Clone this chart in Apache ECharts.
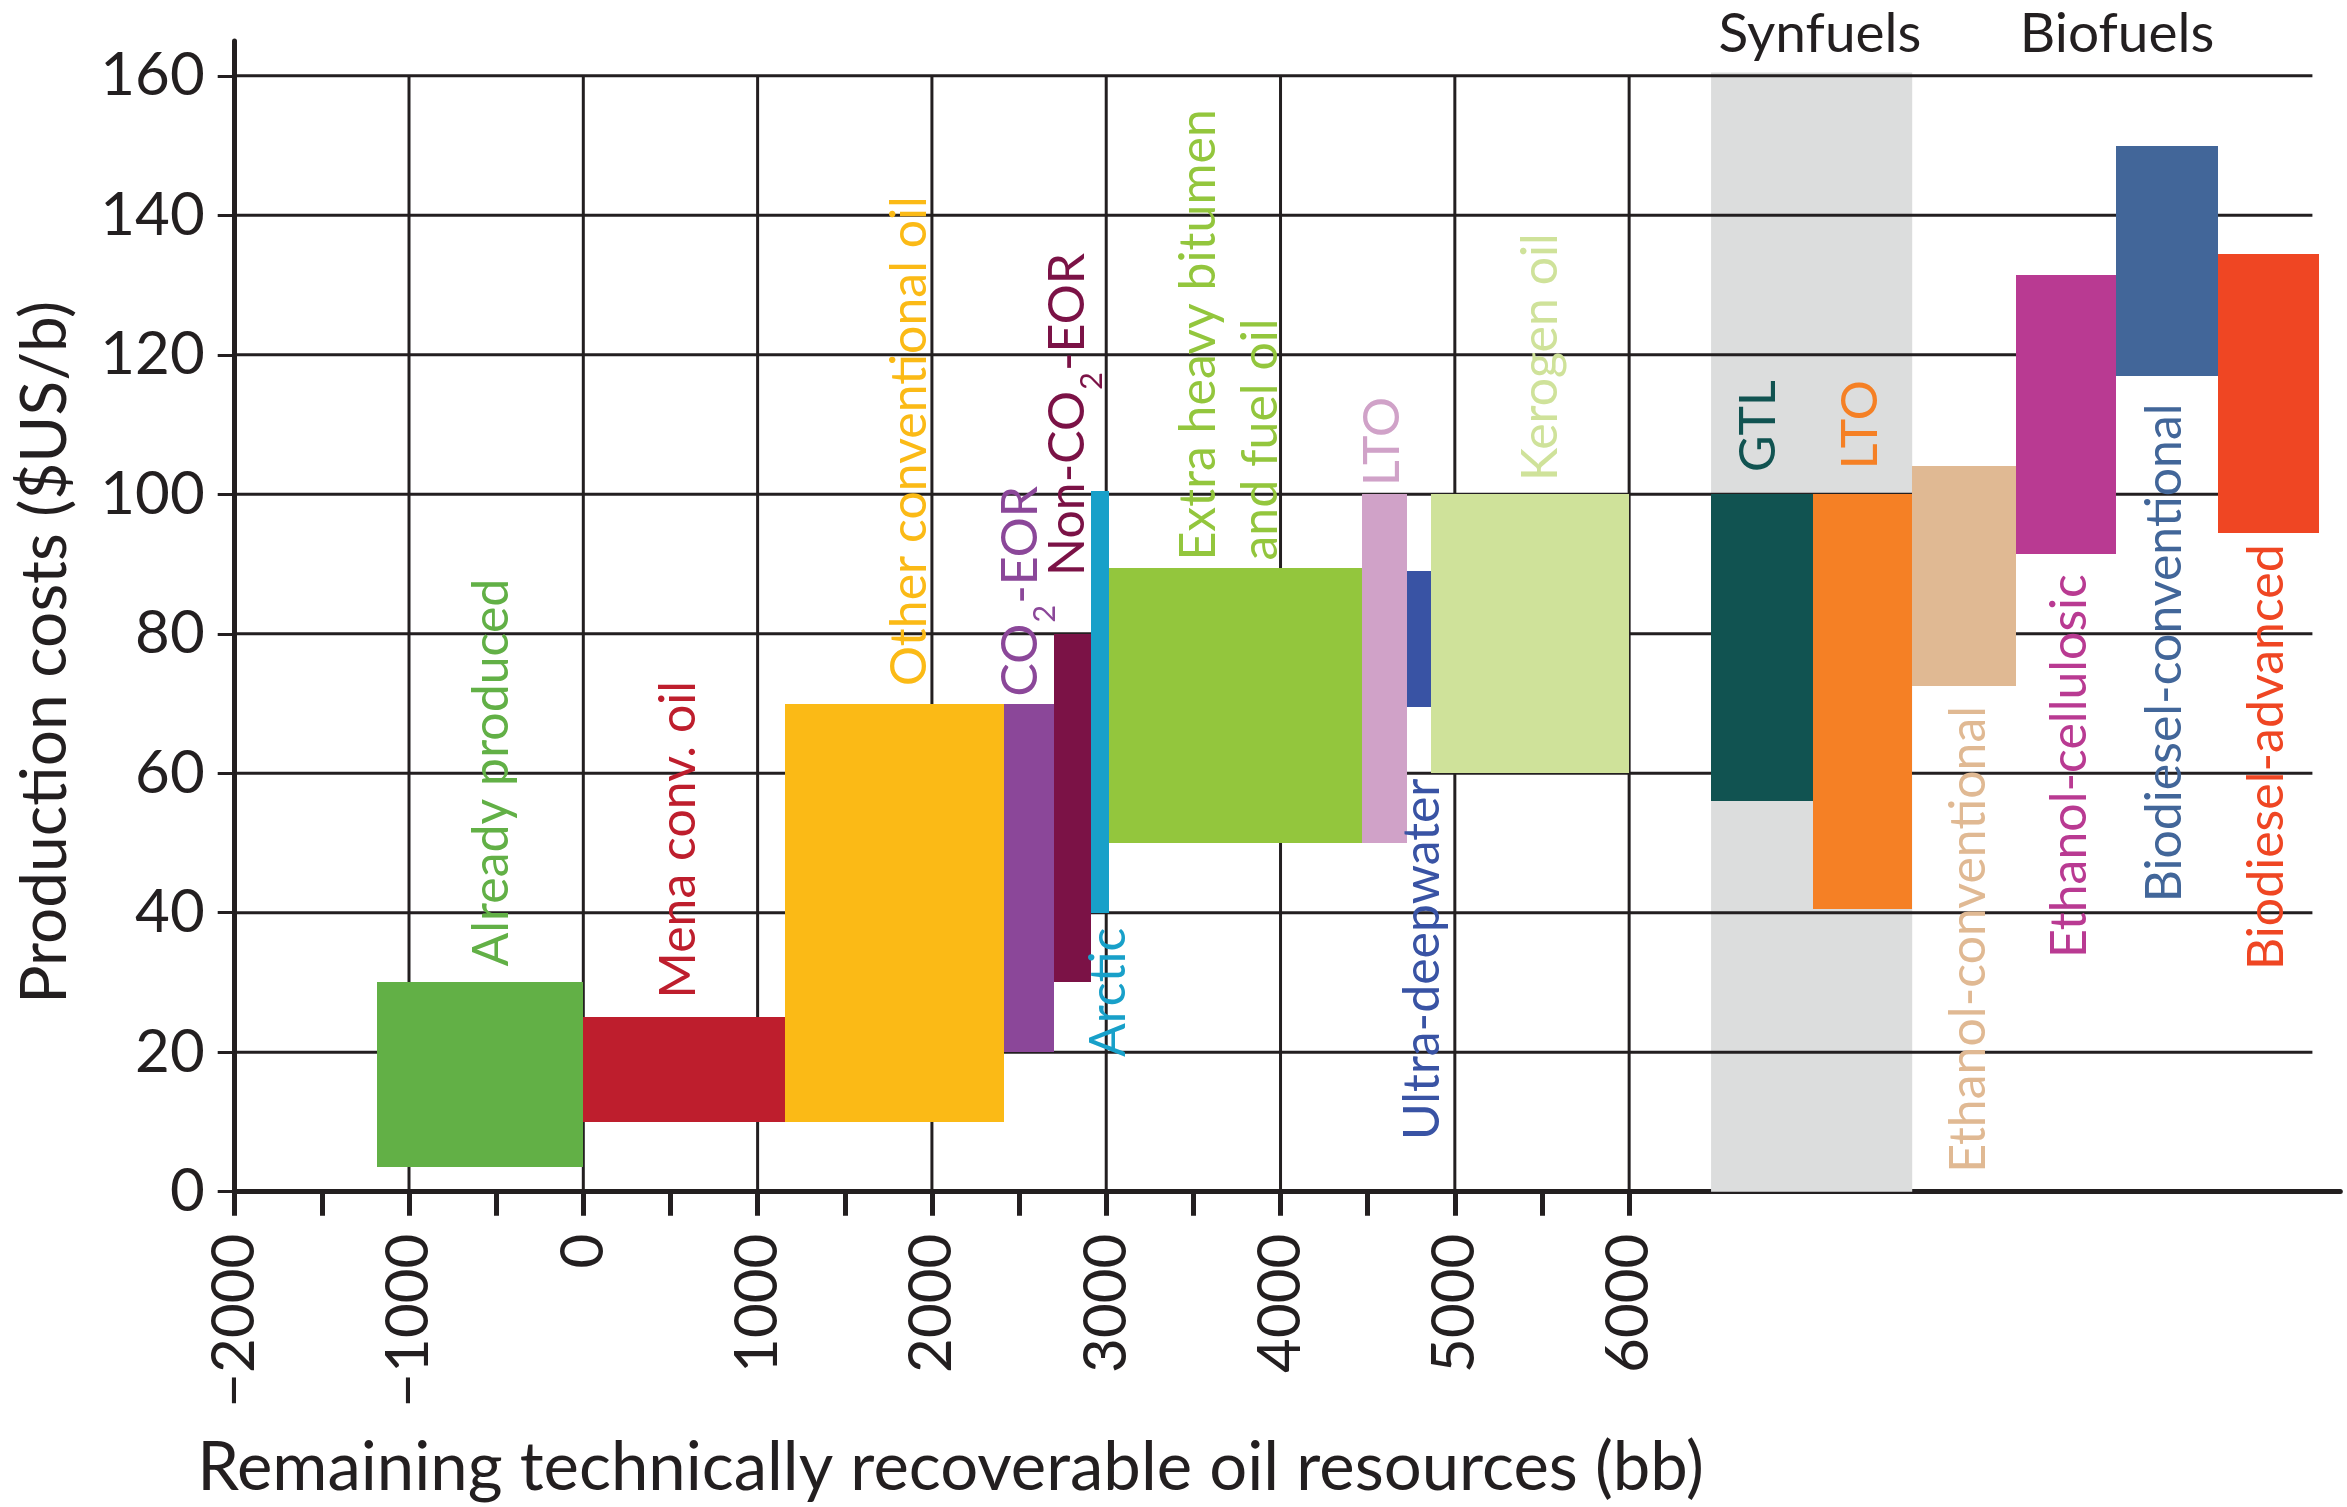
<!DOCTYPE html>
<html>
<head>
<meta charset="utf-8">
<title>Oil production cost curve</title>
<script src="https://cdn.jsdelivr.net/npm/echarts@6/dist/echarts.min.js"></script>
<style>
  html, body { margin: 0; padding: 0; background: #ffffff; }
  #chart { width: 2347px; height: 1507px; }
</style>
</head>
<body>
<div id="chart"></div>
<script>
// Resource blocks of the cost curve, in order along the resource axis
const resources = [
  'Already produced', 'Mena conv. oil', 'Other conventional oil', 'CO2-EOR',
  'Non-CO2-EOR', 'Arctic', 'Extra heavy bitumen and fuel oil', 'LTO',
  'Ultra-deepwater', 'Kerogen oil', 'GTL', 'LTO',
  'Ethanol-conventional', 'Ethanol-cellulosic', 'Biodiesel-conventional', 'Biodiesel-advanced'
];
// Resource span of each block (bb)
const spanStart = [-1186, 0, 1159, 2411, 2698, 2912, 3015, 4470, 4727, 4861, 6470, 7052, 7624, 8220, 8791, 9377];
const spanEnd   = [0, 1159, 2411, 2698, 2912, 3015, 4470, 4727, 4861, 6000, 7052, 7624, 8220, 8791, 9377, 9956];
// Production cost range ($US/b)
const costLow  = [3.5, 10, 10, 20, 30, 40, 50, 50, 69.5, 60, 56, 40.5, 72.5, 91.5, 117, 94.5];
const costHigh = [30, 25, 70, 70, 80, 100.5, 89.5, 100, 89, 100, 100, 100, 104, 131.5, 150, 134.5];
// Axis tick labels
const xTickLabels = [-2000, -1000, 0, 1000, 2000, 3000, 4000, 5000, 6000];
const yTickLabels = [0, 20, 40, 60, 80, 100, 120, 140, 160];
// Alternative-fuel groups; synfuels cover the GTL and synthetic LTO blocks
const fuelGroups = ['Synfuels', 'Biofuels'];
const synfuelBlocks = [10, 11];

// ---- styling and layout ----
const INK = '#231f20';
const FONT = 'Lato';
const palette = [
  '#62b046', '#be1e2d', '#fbba16', '#8b4799', '#7b1246', '#18a0c9', '#93c63d', '#d0a2c8',
  '#3953a4', '#cfe29a', '#115351', '#f58025', '#e0b993', '#b93a92', '#426699', '#ef4623'
];
const bandColor = '#dcdddd';
// where each rotated label starts (x = text centre line, y = start of the text, reading upwards)
const labelAt = [
  [-527, 32.3], [550, 27.7], [1871, 72.5], [2508, 71.0],
  [2780, 88.3], [3013, 19.3], [3710, 90.5], [4587, 101.2],
  [4815, 7.4], [5495, 101.9], [6744, 103.2], [7327, 103.6],
  [7950, 2.7], [8527, 33.5], [9075, 41.5], [9660, 31.8]
];
const groupTitleAt = [[7095, 165.9], [8799, 165.9]];
const gridLineEnd = 9920;

const signed = v => (v < 0 ? '\u2212' + Math.abs(v) : String(v));
const xTickMarks = [];
xTickLabels.forEach((v, i) => {
  xTickMarks.push(v);
  if (i < xTickLabels.length - 1) xTickMarks.push((v + xTickLabels[i + 1]) / 2);
});
const labelText = resources.map(n =>
  n.replace('CO2', 'CO{sub|2}').replace(' bitumen and ', ' bitumen\nand '));
const yTop = yTickLabels[yTickLabels.length - 1];

const chart = echarts.init(document.getElementById('chart'), null, { renderer: 'canvas' });

const option = {
  animation: false,
  backgroundColor: '#ffffff',
  textStyle: { fontFamily: FONT },
  grid: { left: 234.7, right: 6.7, top: 41, bottom: 315.3, containLabel: false, outerBoundsMode: 'none' },
  xAxis: {
    type: 'value', min: -2000, max: 10080,
    name: 'Remaining technically recoverable oil resources (bb)',
    nameLocation: 'middle', nameGap: 243, nameMoveOverlap: false,
    nameTextStyle: { fontFamily: FONT, fontSize: 67, color: INK, padding: [0, 674, 0, 0] },
    axisLine: { show: true, onZero: false, lineStyle: { color: INK, width: 5 } },
    axisTick: { show: true, customValues: xTickMarks, length: 24, lineStyle: { color: INK, width: 5 } },
    axisLabel: { customValues: xTickLabels, rotate: 90, margin: 42, fontFamily: FONT, fontSize: 60, color: INK, formatter: signed },
    splitLine: { show: false }
  },
  yAxis: {
    type: 'value', min: 0, max: 165,
    name: 'Production costs ($US/b)',
    nameLocation: 'middle', nameGap: 157, nameMoveOverlap: false,
    nameTextStyle: { fontFamily: FONT, fontSize: 64, color: INK, padding: [0, 72, 0, 0] },
    axisLine: { show: true, onZero: false, lineStyle: { color: INK, width: 5 } },
    axisTick: { show: true, customValues: yTickLabels, length: 17, lineStyle: { color: INK, width: 3 } },
    axisLabel: { customValues: yTickLabels, margin: 30, fontFamily: FONT, fontSize: 60, color: INK },
    splitLine: { show: false }
  },
  series: [
    {
      // shaded synfuel band
      type: 'custom', name: fuelGroups[0], clip: false, silent: true, z: 1,
      data: [[spanStart[synfuelBlocks[0]], spanEnd[synfuelBlocks[synfuelBlocks.length - 1]]]],
      renderItem(params, api) {
        const a = api.coord([api.value(0), yTop + 0.5]);
        const b = api.coord([api.value(1), 0]);
        return { type: 'rect', shape: { x: a[0], y: a[1], width: b[0] - a[0], height: b[1] - a[1] },
                 style: { fill: bandColor } };
      }
    },
    {
      // horizontal grid lines
      type: 'custom', name: 'cost grid', clip: false, silent: true, z: 2,
      data: yTickLabels.filter(v => v > yTickLabels[0]).map(v => [v]),
      renderItem(params, api) {
        const v = api.value(0);
        const a = api.coord([xTickLabels[0], v]);
        const b = api.coord([gridLineEnd, v]);
        return { type: 'line', shape: { x1: a[0], y1: a[1], x2: b[0], y2: b[1] },
                 style: { stroke: INK, lineWidth: 3 } };
      }
    },
    {
      // vertical grid lines
      type: 'custom', name: 'resource grid', clip: false, silent: true, z: 2,
      data: xTickLabels.filter(v => v > xTickLabels[0]).map(v => [v]),
      renderItem(params, api) {
        const v = api.value(0);
        const a = api.coord([v, yTickLabels[0]]);
        const b = api.coord([v, yTop]);
        return { type: 'line', shape: { x1: a[0], y1: a[1], x2: b[0], y2: b[1] },
                 style: { stroke: INK, lineWidth: 3 } };
      }
    },
    {
      // cost blocks
      type: 'custom', name: 'cost blocks', clip: false, z: 3,
      data: resources.map((n, i) => [spanStart[i], spanEnd[i], costLow[i], costHigh[i]]),
      renderItem(params, api) {
        const tl = api.coord([api.value(0), api.value(3)]);
        const br = api.coord([api.value(1), api.value(2)]);
        const L = Math.round(tl[0]), R = Math.round(br[0]);
        const T = Math.round(tl[1]), B = Math.round(br[1]);
        return { type: 'rect', shape: { x: L, y: T, width: R - L, height: B - T },
                 style: { fill: palette[params.dataIndex] } };
      }
    },
    {
      // block names, rotated to read upwards
      type: 'custom', name: 'block names', clip: false, silent: true, z: 4,
      data: labelAt,
      renderItem(params, api) {
        const i = params.dataIndex;
        const p = api.coord([api.value(0), api.value(1)]);
        return {
          type: 'text', x: p[0], y: p[1], rotation: Math.PI / 2,
          style: {
            text: labelText[i], fill: palette[i],
            fontFamily: FONT, fontSize: 50, lineHeight: 62,
            align: 'left', verticalAlign: 'middle',
            textAlign: 'left', textVerticalAlign: 'middle',
            rich: {
              sub: { fontFamily: FONT, fontSize: 31, fill: palette[i], verticalAlign: 'middle', padding: [49, 1, 0, 1] }
            }
          }
        };
      }
    },
    {
      // group headings above the chart
      type: 'custom', name: 'fuel groups', clip: false, silent: true, z: 4,
      data: groupTitleAt,
      renderItem(params, api) {
        const p = api.coord([api.value(0), api.value(1)]);
        return {
          type: 'text', x: p[0], y: p[1],
          style: { text: fuelGroups[params.dataIndex], fill: INK, fontFamily: FONT, fontSize: 55,
                   align: 'center', verticalAlign: 'middle', textAlign: 'center', textVerticalAlign: 'middle' }
        };
      }
    }
  ]
};

chart.setOption(option);
</script>
</body>
</html>
